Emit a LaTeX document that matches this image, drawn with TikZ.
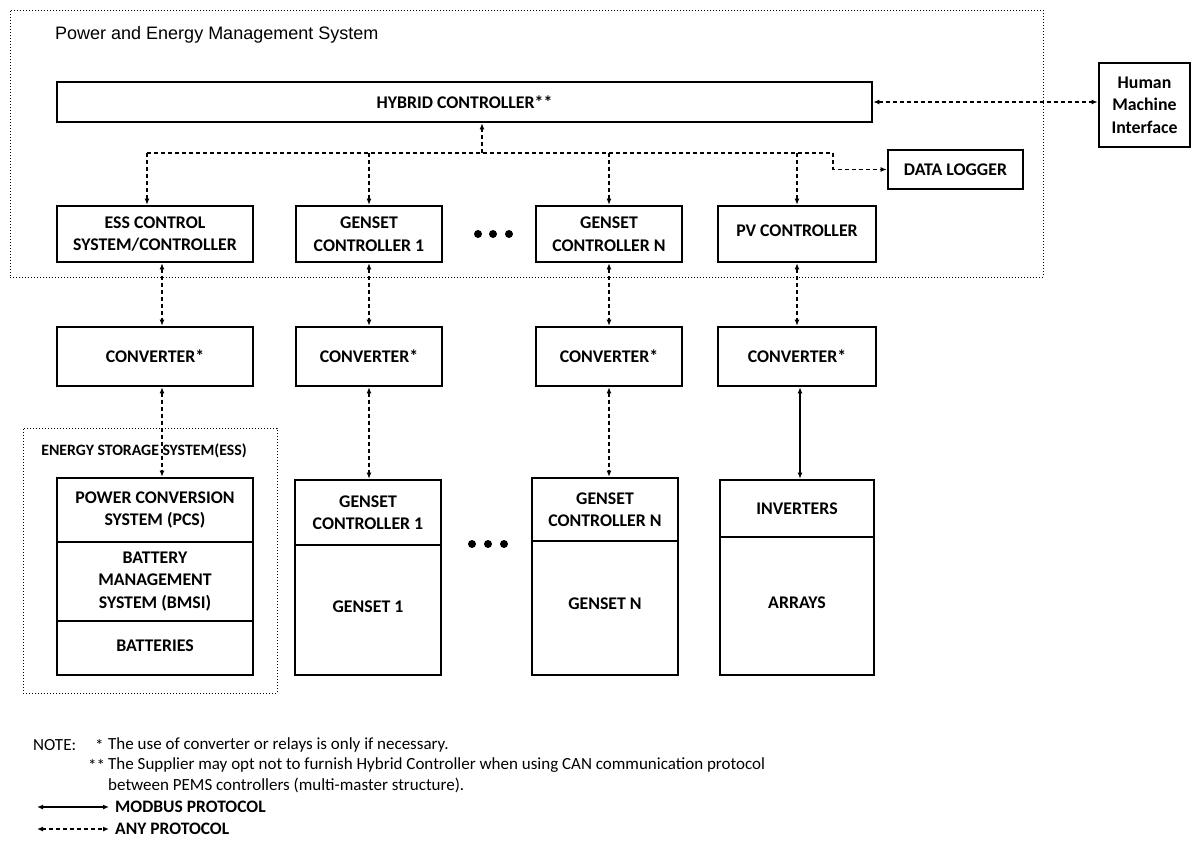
\documentclass[tikz,border=0pt]{standalone}
\usepackage{fontspec}
\setmainfont{Carlito}
\newfontfamily\pemsfont{Liberation Sans}
\usetikzlibrary{arrows.meta}

\begin{document}
\begin{tikzpicture}[x=1pt,y=-1pt,>={Latex[length=6pt,width=5pt]}]
\tikzstyle{every node}=[font=\fontsize{17.8}{22.5}\selectfont\bfseries]
\tikzstyle{box}=[draw,line width=2.6pt,align=center,inner sep=0pt]
\tikzstyle{group}=[draw,dotted,line width=1pt,inner sep=0pt]
\tikzstyle{anyp}=[line width=1.3pt,dash pattern=on 4pt off 3pt]
\tikzstyle{modbus}=[line width=1.3pt]
\tikzstyle{note}=[anchor=west,inner sep=0pt,font=\fontsize{17}{20}\selectfont]
\tikzstyle{legend}=[anchor=west,inner sep=0pt,font=\fontsize{17.5}{20}\selectfont\bfseries]

\useasboundingbox (0,0) rectangle (1192,857);

\node[group,minimum width=1033,minimum height=267] (pems) at (526.5,143.5) {};
\node[anchor=west,inner sep=0pt,font=\fontsize{18}{20}\selectfont\pemsfont] (pemstitle) at (55,35) {Power and Energy Management System};
\node[group,minimum width=254,minimum height=265] (essgrp) at (150,560.5) {};
\node[inner sep=0pt,font=\fontsize{15.8}{18}\selectfont\bfseries] (esstitle) at (144,451) {ENERGY STORAGE SYSTEM(ESS)};

\node[box,minimum width=815,minimum height=40] (hyb) at (464.5,102) {HYBRID CONTROLLER**};
\node[box,minimum width=91,minimum height=84] (hmi) at (1144.5,105) {Human\\Machine\\Interface};
\node[box,minimum width=135,minimum height=39] (dl) at (955.5,169.5) {DATA LOGGER};

\node[box,minimum width=196,minimum height=56] (essctl) at (155,234) {ESS CONTROL\\SYSTEM/CONTROLLER};
\node[box,minimum width=146,minimum height=56] (g1ctl) at (369,234) {GENSET\\CONTROLLER 1};
\node[box,minimum width=146,minimum height=56] (gnctl) at (609,234) {GENSET\\CONTROLLER N};
\node[box,minimum width=158,minimum height=56] (pvctl) at (797,234) {\raisebox{6pt}{PV CONTROLLER}};

\node[box,minimum width=196,minimum height=59] (esscv) at (155,356.5) {CONVERTER*};
\node[box,minimum width=146,minimum height=59] (g1cv) at (369,356.5) {CONVERTER*};
\node[box,minimum width=146,minimum height=59] (gncv) at (609,356.5) {CONVERTER*};
\node[box,minimum width=158,minimum height=59] (pvcv) at (797,356.5) {CONVERTER*};

\node[box,minimum width=196,minimum height=64] (pcs) at (155,510) {POWER CONVERSION\\SYSTEM (PCS)};
\node[box,minimum width=196,minimum height=79] (bms) at (155,581.5) {BATTERY\\MANAGEMENT\\SYSTEM (BMSI)};
\node[box,minimum width=196,minimum height=54] (bat) at (155,648) {\raisebox{5pt}{BATTERIES}};

\node[box,minimum width=146,minimum height=65] (g1top) at (368,512.5) {GENSET\\CONTROLLER 1};
\node[box,minimum width=146,minimum height=130] (g1) at (368,610) {\raisebox{7pt}{GENSET 1}};
\node[box,minimum width=146,minimum height=63] (gntop) at (605,509.5) {GENSET\\CONTROLLER N};
\node[box,minimum width=146,minimum height=134] (gn) at (605,608) {\raisebox{8pt}{GENSET N}};
\node[box,minimum width=154,minimum height=57] (inv) at (797,508.5) {INVERTERS};
\node[box,minimum width=154,minimum height=138] (arr) at (797,606) {\raisebox{6pt}{ARRAYS}};

\foreach \x in {478,493,509} \fill (\x,234) circle (4);
\foreach \x in {472,488,504} \fill (\x,544) circle (4);

\coordinate (busL) at (147,153);
\coordinate (busR) at (833,153);
\coordinate (hybup) at ([xshift=17.5pt]hyb.south);
\draw[anyp] (busL) -- (busR);
\draw[anyp,->] (busL -| hybup) -- (hybup);
\draw[anyp,->] (busL) -- ([xshift=-8pt]essctl.north);
\draw[anyp,->] (busL -| g1ctl.north) -- (g1ctl.north);
\draw[anyp,->] (busL -| gnctl.north) -- (gnctl.north);
\draw[anyp,->] (busL -| pvctl.north) -- (pvctl.north);
\draw[anyp,->] (busR) |- (dl.west);
\draw[anyp,<->] (hyb.east) -- (hyb.east -| hmi.west);

\draw[anyp,<->] ([xshift=7pt]essctl.south) -- ([xshift=7pt]esscv.north);
\draw[anyp,<->] (g1ctl.south) -- (g1cv.north);
\draw[anyp,<->] (gnctl.south) -- (gncv.north);
\draw[anyp,<->] (pvctl.south) -- (pvcv.north);

\draw[anyp,<->] ([xshift=7pt]esscv.south) -- ([xshift=7pt]pcs.north);
\draw[anyp,<->] (g1cv.south) -- (g1cv.south |- g1top.north);
\draw[anyp,<->] (gncv.south) -- (gncv.south |- gntop.north);
\draw[modbus,<->] ([xshift=3pt]pvcv.south) -- ([xshift=3pt]pvcv.south |- inv.north);

\node[note] (note0) at (33,745) {NOTE:};
\node[note] (star1) at (95,745) {*};
\node[note] (note1) at (108,745) {The use of converter or relays is only if necessary.};
\node[note] (star2) at (88,765) {**};
\node[note] (note2) at (108,765) {The Supplier may opt not to furnish Hybrid Controller when using CAN communication protocol};
\node[note] (note3) at (108,785) {between PEMS controllers (multi-master structure).};

\coordinate (lgmodA) at (37,807);
\coordinate (lganyA) at (37,829);
\node[legend] (lgmod) at (115,807) {MODBUS PROTOCOL};
\node[legend] (lgany) at (115,829) {ANY PROTOCOL};
\draw[modbus,<->] (lgmodA) -- ([xshift=-6pt]lgmod.west);
\draw[anyp,<->] (lganyA) -- ([xshift=-6pt]lgany.west);

\end{tikzpicture}
\end{document}
